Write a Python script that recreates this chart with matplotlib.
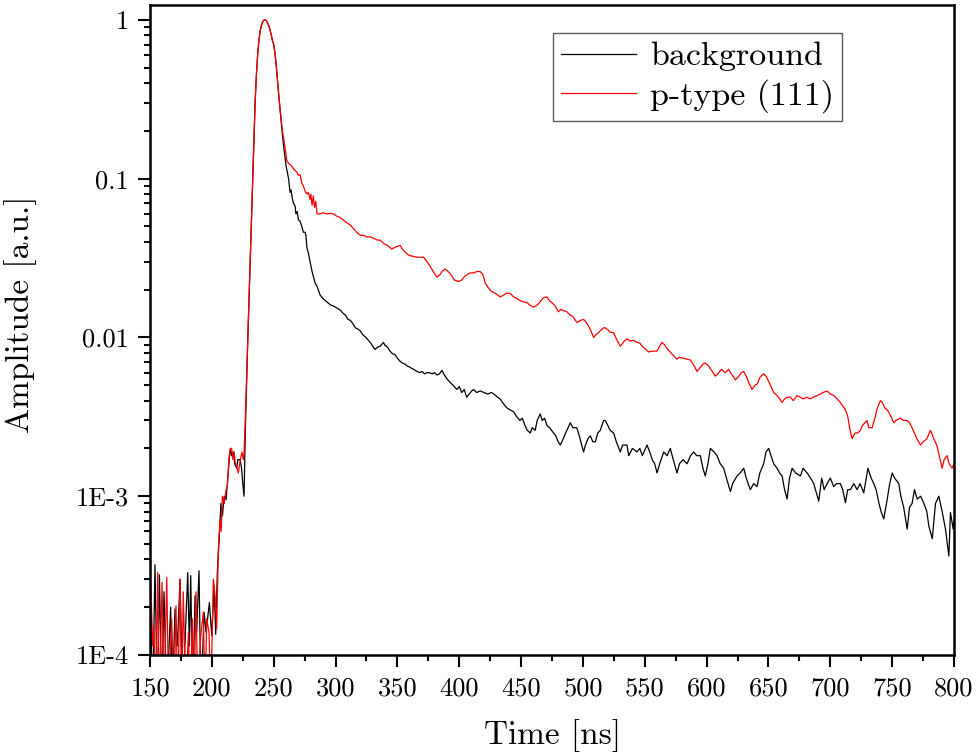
import matplotlib
matplotlib.use("Agg")
import matplotlib.pyplot as plt
from matplotlib.ticker import FixedLocator, FixedFormatter, MultipleLocator, LogLocator, NullFormatter

plt.rcParams['font.family'] = 'cmr10'
plt.rcParams['mathtext.fontset'] = 'cm'
plt.rcParams['axes.unicode_minus'] = False

# values (5e-5 = dips below the axis floor)
bg_t = [150.0, 152.2, 154.0, 155.9, 157.6, 159.5, 161.3, 163.5, 166.7, 168.0, 170.2, 172.1, 174.3, 176.4,
        180.5, 181.8, 182.9, 184.5, 186.4, 187.7, 189.6, 191.2, 193.7, 195.3, 198.0, 199.9, 201.8, 203.1,
        204.4, 206.0, 207.3, 208.5, 210.0, 211.5, 212.5, 214.0, 215.0, 216.0, 217.4, 218.5, 220.0, 221.0,
        222.8, 224.0, 225.0, 226.0, 227, 228, 229, 230, 231, 232, 233, 234, 235, 236, 237, 238, 239, 240,
        241, 242, 243, 244, 245, 246, 247, 248, 249, 250, 251, 252, 253, 254, 255, 256, 257,
        258, 259, 260, 261, 262, 263.2, 264, 265, 266, 267.3, 268, 269, 270, 271.3, 272.7, 274, 275.4,
        276, 276.8, 278, 279.4, 281, 283.5, 285, 287.5, 290, 292, 294, 296, 298, 300, 302, 304, 306, 308,
        310, 312, 314, 316, 318, 320, 322, 324, 326, 328, 330, 332, 334, 336, 338.7, 340, 342, 344, 346,
        348, 350, 352, 354, 356, 358, 360, 363, 366, 368, 370, 372, 374, 376, 378, 380, 382, 384, 386, 388,
        390, 392.7, 395, 398, 400, 402, 404, 406, 408, 410, 411.6, 414, 417, 420, 423, 426, 428, 431, 433,
        436, 438.5, 441, 444, 446, 449, 451, 453, 455, 457.4, 459, 461.4, 463, 465.5, 467, 469, 470.8, 473,
        476.2, 478, 480, 481.7, 484, 486, 488, 489.7, 492, 495, 497, 499, 500.5, 502, 504, 506, 508, 510,
        512, 514, 516.7, 518, 520, 522, 524.8, 527, 530.2, 532, 535.6, 537, 540, 543.7, 546, 548, 551.8,
        554, 556, 558, 559.9, 562, 565.3, 568, 570.6, 573, 576, 578, 581, 584.1, 587, 589.5, 592, 594.9,
        597, 598.9, 601, 603, 606, 608.4, 611, 613.8, 616, 619.2, 621, 624.5, 627, 630, 632, 635.3, 638,
        640.7, 643, 646.1, 648, 650.2, 652, 654.2, 657, 659, 661, 663, 665, 667, 669.1, 672, 675.8, 678,
        681.2, 684, 686.6, 690.6, 693, 695, 697.4, 700, 702.7, 705, 708.1, 710, 712.2, 714, 716.2, 719,
        721.6, 724, 727, 730.4, 733, 735.1, 737, 739.2, 741, 743.2, 745.9, 748, 750, 752, 755.3, 757,
        759.3, 762.1, 764, 766.1, 768, 770.2, 773, 775.6, 778, 779.6, 782.4, 785, 787.7, 790.4, 793.1,
        795.8, 797.1, 799.3, 800]
bg_y = [3.0e-4, 5e-5, 3.7e-4, 5e-5, 3.2e-4, 5e-5, 2.5e-4, 5e-5, 2.0e-4, 5e-5, 1.95e-4, 1.14e-4, 3.0e-4, 5e-5,
        3.3e-4, 1.14e-4, 3.16e-4, 5e-5, 2.36e-4, 1.39e-4, 3.39e-4, 5e-5, 1.86e-4, 1.39e-4, 2.14e-4, 1.32e-4,
        2.74e-4, 1.35e-4,
        3.3e-4, 5.6e-4, 9e-4, 7.5e-4, 1.0e-3, 9.5e-4, 1.2e-3, 1.7e-3, 2.0e-3, 1.8e-3, 1.9e-3, 1.6e-3,
        1.5e-3, 1.7e-3, 1.7e-3, 1.5e-3, 1.2e-3, 1.0e-3, 2.5e-3, 5.0e-3, 9.5e-3, 0.017, 0.031, 0.055,
        0.098, 0.17, 0.31, 0.45, 0.6, 0.74, 0.85, 0.92, 0.97, 0.995, 1.0, 0.99, 0.96, 0.92, 0.87, 0.8,
        0.74, 0.7, 0.62, 0.52, 0.42, 0.34, 0.28, 0.23, 0.19,
        0.16, 0.14, 0.12, 0.11, 0.1, 0.082, 0.085, 0.075, 0.07, 0.067, 0.06, 0.062, 0.055, 0.054, 0.05,
        0.046, 0.046, 0.044, 0.037, 0.034, 0.03, 0.026, 0.022, 0.021, 0.0185, 0.0175, 0.017, 0.0165,
        0.016, 0.0158, 0.0155, 0.0152, 0.0148, 0.0142, 0.0138, 0.0130, 0.0128, 0.0122, 0.0115, 0.0113,
        0.011, 0.0104, 0.0101, 0.0097, 0.0093, 0.0088, 0.0084, 0.0087, 0.0088, 0.0093, 0.0089, 0.0087,
        0.0082, 0.0079, 0.0078, 0.0074, 0.0071, 0.0069, 0.0068, 0.0066, 0.0065, 0.0063, 0.0061, 0.006,
        0.0061, 0.0059, 0.006, 0.006, 0.0059, 0.006, 0.0058, 0.0059, 0.0062, 0.0058, 0.0055, 0.0052,
        0.005, 0.0047, 0.0049, 0.0045, 0.0047, 0.0042, 0.0044, 0.0046, 0.0047, 0.0045, 0.0046, 0.0045,
        0.0044, 0.0045, 0.0044, 0.0042, 0.0041, 0.0038, 0.0036, 0.0035, 0.0034, 0.0032, 0.0030, 0.0031,
        0.0028, 0.0026, 0.0025, 0.0027, 0.0026, 0.0030, 0.0033, 0.003, 0.0031, 0.0028, 0.0027, 0.0025,
        0.0024, 0.0022, 0.0021, 0.0023, 0.0025, 0.0027, 0.0029, 0.0027, 0.0027, 0.0024, 0.0021, 0.0019,
        0.0021, 0.0023, 0.0024, 0.0022, 0.0022, 0.0025, 0.0026, 0.003, 0.003, 0.0028, 0.0026, 0.0025,
        0.0022, 0.0019, 0.0021, 0.0021, 0.0018, 0.002, 0.0019, 0.002, 0.0018, 0.0021, 0.0019, 0.0017,
        0.0016, 0.0014, 0.0016, 0.0019, 0.0018, 0.002, 0.0017, 0.0014, 0.0016, 0.0017, 0.0016, 0.0018,
        0.0019, 0.0018, 0.0018, 0.0015, 0.00134, 0.0016, 0.002, 0.0019, 0.0018, 0.0016, 0.0015, 0.0013,
        0.00107, 0.0012, 0.00134, 0.0014, 0.0015, 0.0013, 0.0011, 0.0012, 0.00115, 0.0014, 0.0016,
        0.0019, 0.002, 0.0018, 0.0016, 0.0015, 0.0014, 0.00134, 0.0011, 0.00096, 0.0013, 0.0015, 0.0014,
        0.00134, 0.0015, 0.0014, 0.0013, 0.0012, 0.00093, 0.0013, 0.0011, 0.0012, 0.0013, 0.00115, 0.0012,
        0.0012, 0.0011, 0.00091, 0.0011, 0.0011, 0.0012, 0.0011, 0.0012, 0.00105, 0.0015, 0.0013, 0.0012,
        0.0011, 0.00091, 0.0008, 0.00072, 0.00095, 0.0012, 0.0014, 0.0013, 0.0012, 0.001, 0.00085,
        0.00062, 0.00085, 0.0009, 0.0011, 0.00096, 0.0010, 0.0009, 0.0008, 0.00065, 0.00054, 0.0009,
        0.001, 0.0008, 0.00062, 0.00042, 0.00079, 0.00062, 0.0007]

pt_t = [150.5, 152.2, 153.2, 154.8, 156.2, 157.6, 159.7, 161.3, 163.5, 165.1, 167.5, 169.4, 171.0, 172.4,
        174.3, 175.6, 176.9, 178.9, 181.0, 182.4, 184.2, 185.6, 187.2, 188.6, 191.0, 193.1, 194.5, 195.8,
        197.7, 199.1, 201.2, 202.6, 203.9, 205.2, 206.5, 207.5, 208.5, 210, 211.5, 212.5, 214, 215, 216,
        217, 218, 219, 220, 221.4, 222.5, 224.2, 225.5, 226, 227, 228, 229, 230, 231, 232, 233, 234, 235,
        236, 237, 238, 239, 240, 241, 242, 243, 244, 245, 246, 247, 248, 249, 250, 251, 252, 253, 254,
        255, 256, 257, 258, 259, 260.6, 262, 264.6, 266, 268.7, 270, 271.3, 272.7, 274, 275.4, 277, 278,
        279.4, 280, 281, 282, 283, 284, 285, 287, 290, 293, 296, 298.3, 301, 303.7, 306, 309, 311.8, 314,
        317, 320, 322.5, 325, 328, 331, 334, 336, 339, 342, 345.5, 348, 350, 352.2, 354, 357, 359, 362,
        365.7, 369, 371.1, 374, 376.5, 379, 381.9, 384.6, 386, 388.6, 391, 393, 396, 399.4, 402, 405,
        408.8, 412, 414, 416.9, 419, 421, 423.6, 426, 429, 431, 433.1, 436, 438, 441.2, 444, 447, 449.3,
        452, 455, 457, 460, 463, 466, 468, 470.8, 473, 475, 477, 480.2, 482, 484, 487, 490, 492, 495.1,
        498, 500.5, 502, 504, 506, 508.6, 511, 514, 516.7, 518, 520, 522, 524.8, 527, 530.2, 533, 535.6,
        538, 541, 543.7, 546, 548, 550, 553.1, 556, 559.9, 562, 563.8, 566, 568, 570.6, 573, 576, 578,
        581, 584.1, 587, 590, 592.2, 595, 597, 598.9, 601, 604, 607, 609, 612, 615, 617.8, 620, 623.2,
        626, 628, 630, 632, 634, 636.7, 639, 641, 643, 646.1, 648, 650, 652, 654.2, 657, 659, 661, 663,
        665, 667.7, 670, 673, 675.8, 678, 681, 683.9, 686, 689.3, 692, 694, 697.4, 700, 703, 705.5, 708,
        710, 712.2, 714, 716, 717.6, 720, 722, 724.3, 726, 728, 729.7, 731, 733.8, 736, 738, 740.5, 742,
        744, 745.9, 748, 751.3, 753, 756.7, 759, 762.1, 764, 766.1, 768, 770, 772.9, 775, 778, 781,
        783.6, 786, 788, 790.4, 792, 794.5, 796, 798.5, 800]
pt_y = [2.93e-4, 1.14e-4, 1.53e-4, 5e-5, 3.31e-4, 5e-5, 2.86e-4, 5e-5, 3.08e-4, 5e-5, 1.69e-4, 5e-5,
        2.04e-4, 5e-5, 3.0e-4, 5e-5, 2.5e-4, 5e-5, 1.39e-4, 5e-5, 1.69e-4, 5e-5, 2.5e-4, 5e-5, 1.32e-4,
        1.86e-4, 5e-5, 1.69e-4, 1.39e-4, 5e-5, 3.0e-4, 2.36e-4, 1.46e-4, 4.5e-4, 7e-4, 6e-4, 1.0e-3,
        9e-4, 1.1e-3, 1.15e-3, 1.8e-3, 2.0e-3, 2.0e-3, 1.7e-3, 1.9e-3, 1.6e-3, 1.55e-3, 1.4e-3, 1.6e-3,
        1.9e-3, 1.7e-3, 1.9e-3, 3.0e-3, 5.4e-3, 9.7e-3, 0.017, 0.031, 0.055, 0.098, 0.17, 0.31, 0.45,
        0.6, 0.74, 0.85, 0.92, 0.97, 0.995, 1.0, 0.99, 0.96, 0.92, 0.87, 0.8, 0.74, 0.7, 0.62, 0.52, 0.42,
        0.34, 0.28, 0.24, 0.2, 0.18, 0.16, 0.13, 0.125, 0.12, 0.115, 0.11, 0.105, 0.106, 0.094, 0.09,
        0.083, 0.08, 0.082, 0.074, 0.08, 0.068, 0.078, 0.066, 0.072, 0.06, 0.06, 0.061, 0.06, 0.0605,
        0.06, 0.058, 0.057, 0.055, 0.053, 0.051, 0.049, 0.046, 0.044, 0.044, 0.043, 0.043, 0.042, 0.041,
        0.041, 0.039, 0.038, 0.036, 0.037, 0.0375, 0.038, 0.036, 0.034, 0.033, 0.0325, 0.032, 0.032,
        0.032, 0.03, 0.028, 0.026, 0.024, 0.025, 0.026, 0.027, 0.026, 0.025, 0.023, 0.0225, 0.023,
        0.0245, 0.0255, 0.0255, 0.026, 0.026, 0.025, 0.022, 0.0205, 0.0195, 0.019, 0.0185, 0.018, 0.0185,
        0.019, 0.0189, 0.018, 0.0175, 0.017, 0.0168, 0.0165, 0.016, 0.0155, 0.016, 0.017, 0.0178, 0.018,
        0.017, 0.0165, 0.016, 0.0145, 0.015, 0.0148, 0.0145, 0.0138, 0.0135, 0.0124, 0.0128, 0.013,
        0.0126, 0.012, 0.0112, 0.010, 0.0105, 0.011, 0.0115, 0.0115, 0.0112, 0.0108, 0.0107, 0.0098,
        0.0088, 0.0094, 0.0098, 0.0095, 0.0096, 0.0093, 0.0092, 0.0088, 0.0085, 0.0081, 0.0082, 0.0082,
        0.0088, 0.0093, 0.009, 0.0085, 0.0081, 0.0077, 0.0073, 0.0075, 0.0074, 0.0073, 0.0072, 0.0066,
        0.0061, 0.0065, 0.0068, 0.0069, 0.0067, 0.0062, 0.0057, 0.0059, 0.0063, 0.006, 0.0063, 0.0059,
        0.0054, 0.0057, 0.006, 0.0061, 0.0057, 0.0052, 0.0047, 0.005, 0.0051, 0.0056, 0.0059, 0.0057,
        0.0053, 0.0049, 0.0045, 0.0043, 0.0041, 0.0039, 0.0041, 0.0042, 0.0042, 0.0040, 0.0043, 0.0042,
        0.0041, 0.0042, 0.0041, 0.0042, 0.0043, 0.0044, 0.0045, 0.0046, 0.0044, 0.0043, 0.0041, 0.0039,
        0.0037, 0.0035, 0.0032, 0.0026, 0.0023, 0.0025, 0.0025, 0.0026, 0.0028, 0.0029, 0.003, 0.0027,
        0.0027, 0.0031, 0.0036, 0.004, 0.0039, 0.0036, 0.0035, 0.0033, 0.0029, 0.003, 0.0031, 0.003,
        0.003, 0.0029, 0.0027, 0.0025, 0.0023, 0.0021, 0.0022, 0.0023, 0.0026, 0.0023, 0.0021, 0.0018,
        0.0015, 0.0017, 0.0018, 0.0016, 0.0015, 0.0016]

y_ticks = [1e-4, 1e-3, 1e-2, 1e-1, 1]
y_tick_labels = ['1E-4', '1E-3', '0.01', '0.1', '1']

fig = plt.figure(figsize=(9.78, 7.55), dpi=100)
ax = fig.add_axes([0.1534, 0.1325, 0.8221, 0.8615])

ax.plot(bg_t, bg_y, color='black', lw=0.9, label='background')
ax.plot(pt_t, pt_y, color='red', lw=0.9, label='p-type (111)')

ax.set_yscale('log')
ax.set_xlim(150, 800)
ax.set_ylim(1e-4, 1.25)

ax.xaxis.set_major_locator(MultipleLocator(50))
ax.xaxis.set_minor_locator(MultipleLocator(25))
ax.yaxis.set_major_locator(FixedLocator(y_ticks))
ax.yaxis.set_major_formatter(FixedFormatter(y_tick_labels))
ax.yaxis.set_minor_locator(LogLocator(base=10, subs=range(2, 10)))
ax.yaxis.set_minor_formatter(NullFormatter())

ax.tick_params(which='major', direction='out', length=8.5, width=1.5, labelsize=19, pad=7)
ax.tick_params(which='minor', direction='out', length=4.5, width=1.5)
for s in ax.spines.values():
    s.set_linewidth(1.8)

ax.set_xlabel('Time [ns]', fontsize=24)
ax.set_ylabel('Amplitude [a.u.]', fontsize=24)
ax.xaxis.set_label_coords(0.5, -0.098)
ax.yaxis.set_label_coords(-0.141, 0.523)

leg = ax.legend(loc='upper right', fontsize=24.5, frameon=True, fancybox=False,
                handlelength=2.2, handletextpad=0.4, borderpad=0.25, labelspacing=0.22,
                bbox_to_anchor=(0.861, 0.956), borderaxespad=0)
leg.get_frame().set_edgecolor('#333333')
leg.get_frame().set_linewidth(1.0)

fig.savefig('out.png', dpi=100)
